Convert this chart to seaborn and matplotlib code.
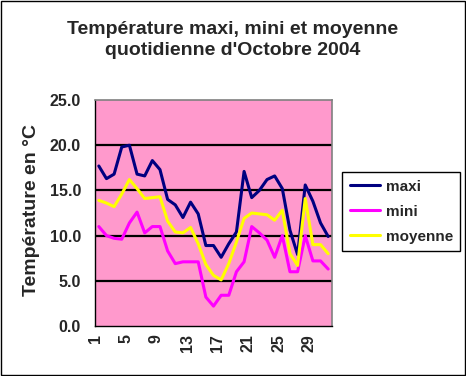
import matplotlib
matplotlib.use("Agg")
import matplotlib.pyplot as plt
import matplotlib.transforms as mtransforms
from matplotlib.patches import Rectangle
import seaborn as sns
import pandas as pd

# daily temperatures, October 2004
days = list(range(1, 32))
maxi = [17.7, 16.3, 16.8, 19.8, 20.0, 16.8, 16.6, 18.3, 17.3, 14.0,
        13.4, 12.0, 13.7, 12.4, 8.9, 8.9, 7.6, 9.1, 10.4, 17.1,
        14.2, 15.0, 16.2, 16.6, 15.2, 10.6, 7.9, 15.6, 13.8, 11.4, 9.9]
mini = [11.0, 10.0, 9.7, 9.6, 11.4, 12.6, 10.3, 11.0, 11.0, 8.3,
        6.9, 7.1, 7.1, 7.1, 3.2, 2.2, 3.4, 3.4, 6.0, 7.1,
        11.0, 10.3, 9.5, 7.6, 10.0, 6.0, 6.0, 10.0, 7.2, 7.2, 6.3]
moyenne = [13.9, 13.6, 13.2, 14.6, 16.2, 15.2, 14.1, 14.2, 14.3, 11.6,
           10.4, 10.3, 10.9, 9.1, 6.8, 5.6, 5.1, 6.9, 9.3, 11.9,
           12.5, 12.4, 12.3, 11.7, 12.8, 8.0, 6.7, 14.1, 9.0, 9.0, 8.0]
series = ["maxi", "mini", "moyenne"]
colors = ["#000080", "#FF00FF", "#FFFF00"]
yticks = [0, 5, 10, 15, 20, 25]
xlabel_days = [1, 5, 9, 13, 17, 21, 25, 29]

df = pd.DataFrame({"jour": days * 3,
                   "temp": maxi + mini + moyenne,
                   "serie": [s for s in series for _ in days]})

sns.set_style("white")
plt.rcParams["font.family"] = ["Liberation Sans", "DejaVu Sans"]
plt.rcParams["font.weight"] = "bold"

fig = plt.figure(figsize=(4.66, 3.76), dpi=100)
ax = fig.add_axes([95 / 466, 1 - 326 / 376, 237 / 466, 226 / 376])
ax.set_facecolor("#FF99CC")

for y in yticks[1:-1]:
    ax.axhline(y, color="black", lw=1.6, zorder=1)

sns.lineplot(data=df, x="jour", y="temp", hue="serie",
             palette=dict(zip(series, colors)), lw=2.2, ax=ax, zorder=3)

ax.set_xlim(0.5, 31.5)
ax.set_ylim(0, 25)
ax.set_yticks(yticks)
ax.set_yticklabels([f"{v:.1f}" for v in yticks], fontsize=11.5, fontweight="bold")
ax.set_xticks(xlabel_days)
ax.set_xticklabels([str(d) for d in xlabel_days], rotation=90,
                   fontsize=11.5, fontweight="bold")
ax.set_xticks([d + 0.5 for d in range(0, 32)], minor=True)
ax.tick_params(axis="x", which="major", length=0, pad=6)
ax.tick_params(axis="x", which="minor", length=4, width=1, color="black", direction="out")
ax.tick_params(axis="y", length=5, width=1, color="black", direction="out", pad=5)
shift = mtransforms.ScaledTranslation(-3.5 / 100, 0, fig.dpi_scale_trans)
for lab in ax.get_xticklabels():
    lab.set_transform(lab.get_transform() + shift)

ax.set_xlabel("")
ax.set_ylabel("")
for side in ["left", "bottom"]:
    ax.spines[side].set_color("black")
    ax.spines[side].set_linewidth(1)
for side in ["top", "right"]:
    ax.spines[side].set_color("#808080")
    ax.spines[side].set_linewidth(1.2)

handles, labels = ax.get_legend_handles_labels()
ax.legend(handles, labels, loc="upper left",
          bbox_to_anchor=(342 / 466, 1 - 172 / 376), bbox_transform=fig.transFigure,
          borderaxespad=0, frameon=True, fancybox=False, edgecolor="black", framealpha=1,
          prop={"size": 11, "weight": "bold"}, handlelength=2.0,
          labelspacing=0.72, borderpad=0.5, handletextpad=0.35)
ax.get_legend().get_frame().set_linewidth(1)

fig.text(0.5, 1 - 40 / 376, "Température maxi, mini et moyenne\nquotidienne d'Octobre 2004",
         ha="center", va="center", fontsize=14, fontweight="bold", linespacing=1.3)
fig.text(32 / 466, 1 - 210 / 376, "Température en °C", rotation=90,
         ha="center", va="center", fontsize=14, fontweight="bold")

fig.patches.append(Rectangle((0.002, 0.003), 0.995, 0.994, transform=fig.transFigure,
                             fill=False, edgecolor="black", lw=1))

fig.savefig("out.png", dpi=100)
